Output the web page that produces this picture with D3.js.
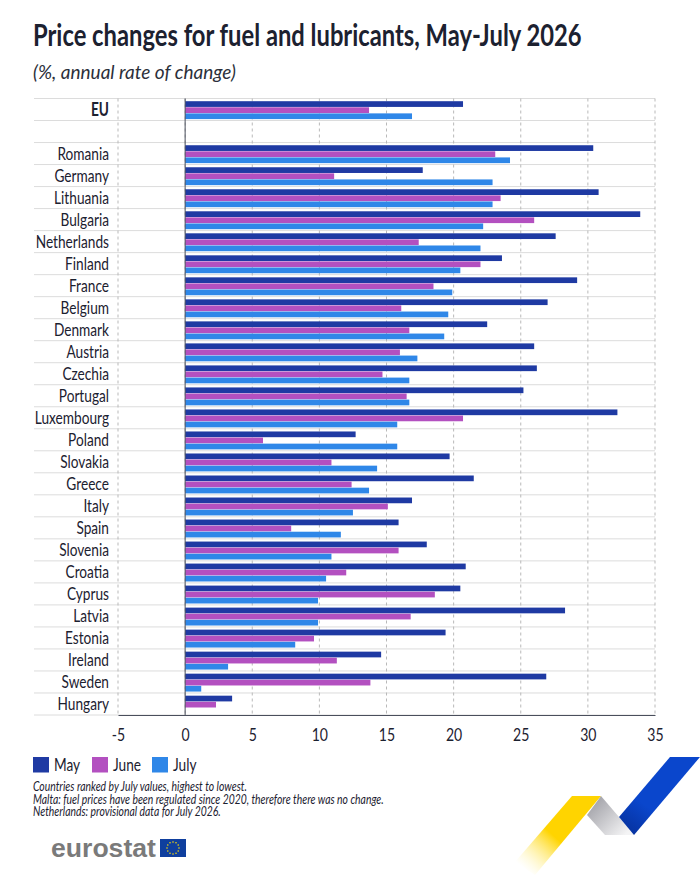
<!DOCTYPE html>
<html lang="en">
<head>
<meta charset="utf-8">
<title>Price changes for fuel and lubricants</title>
<script src="https://cdn.jsdelivr.net/npm/d3@7"></script>
<style>
  html, body { margin: 0; padding: 0; background: #fff; }
  svg { display: block; }
  text { font-family: Lato, sans-serif; }
</style>
</head>
<body>
<div id="drawing"></div>
<script>
var countries = ['EU', '', 'Romania', 'Germany', 'Lithuania', 'Bulgaria', 'Netherlands', 'Finland', 'France', 'Belgium', 'Denmark', 'Austria', 'Czechia', 'Portugal', 'Luxembourg', 'Poland', 'Slovakia', 'Greece', 'Italy', 'Spain', 'Slovenia', 'Croatia', 'Cyprus', 'Latvia', 'Estonia', 'Ireland', 'Sweden', 'Hungary'];
var may  = [20.7, null, 30.4, 17.7, 30.8, 33.9, 27.6, 23.6, 29.2, 27.0, 22.5, 26.0, 26.2, 25.2, 32.2, 12.7, 19.7, 21.5, 16.9, 15.9, 18.0, 20.9, 20.5, 28.3, 19.4, 14.6, 26.9, 3.5];
var june = [13.7, null, 23.1, 11.1, 23.5, 26.0, 17.4, 22.0, 18.5, 16.1, 16.7, 16.0, 14.7, 16.5, 20.7, 5.8, 10.9, 12.4, 15.1, 7.9, 15.9, 12.0, 18.6, 16.8, 9.6, 11.3, 13.8, 2.3];
var july = [16.9, null, 24.2, 22.9, 22.9, 22.2, 22.0, 20.5, 19.9, 19.6, 19.3, 17.3, 16.7, 16.7, 15.8, 15.8, 14.3, 13.7, 12.5, 11.6, 10.9, 10.5, 9.9, 9.9, 8.2, 3.2, 1.2, 0];
var seriesNames = ['May', 'June', 'July'];
var seriesColors = ['#1f3aa3', '#b350c0', '#2f87e8'];
var tickValues = [-5, 0, 5, 10, 15, 20, 25, 30, 35];
var notes = [
  'Countries ranked by July values, highest to lowest.',
  'Malta: fuel prices have been regulated since 2020, therefore there was no change.',
  'Netherlands: provisional data for July 2026.'
];

var textColor = '#1c2130';
var svg = d3.select('#drawing').append('svg').attr('width', 700).attr('height', 875);
var defs = svg.append('defs');

var x = d3.scaleLinear().domain([-5, 35]).range([118, 655]);
var y = d3.scaleBand().domain(d3.range(countries.length)).range([98.5, 715]);
var barY = d3.scaleBand().domain(d3.range(3)).range([2.7, 20.6]).paddingInner(0.06).paddingOuter(0);
var bottom = y.range()[1];

// the chart font is a condensed one, so squeeze text to the wanted width
function squeeze(sel, px, py, sx) {
  sel.attr('transform', 'translate(' + px + ',' + py + ') scale(' + sx + ',1)');
}
function fit(sel, px, py, width) {
  sel.each(function() {
    squeeze(d3.select(this), px, py, width / this.getComputedTextLength());
  });
}

// title + subtitle
svg.append('text').attr('font-size', 30).attr('font-weight', 700).attr('fill', textColor)
  .text('Price changes for fuel and lubricants, May-July 2026')
  .call(fit, 33, 46, 549);
svg.append('text').attr('font-size', 20).attr('font-style', 'italic').attr('fill', '#2b2f3a')
  .text('(%, annual rate of change)')
  .call(fit, 33, 79, 203);

// horizontal row lines
svg.append('g').selectAll('line').data(d3.range(countries.length + 1)).enter().append('line')
  .attr('x1', 34).attr('x2', 655)
  .attr('y1', function(d) { return d < countries.length ? y(d) : bottom; })
  .attr('y2', function(d) { return d < countries.length ? y(d) : bottom; })
  .attr('stroke', '#dcdcdc').attr('stroke-width', 1);

// vertical dashed grid
svg.append('g').selectAll('line').data(tickValues).enter().append('line')
  .attr('x1', function(d) { return x(d); }).attr('x2', function(d) { return x(d); })
  .attr('y1', y.range()[0]).attr('y2', bottom)
  .attr('stroke', '#b9b9b9').attr('stroke-width', 1).attr('stroke-dasharray', '3,3');

// bars
[may, june, july].forEach(function(values, s) {
  var rows = d3.range(values.length).filter(function(i) { return values[i] !== null; });
  svg.append('g').selectAll('rect').data(rows).enter().append('rect')
    .attr('x', x(0))
    .attr('y', function(i) { return y(i) + barY(s); })
    .attr('width', function(i) { return x(values[i]) - x(0); })
    .attr('height', barY.bandwidth())
    .attr('fill', seriesColors[s]);
});

// zero line
svg.append('line').attr('x1', x(0)).attr('x2', x(0))
  .attr('y1', y.range()[0]).attr('y2', bottom)
  .attr('stroke', '#4a4f5c').attr('stroke-width', 1);

// bottom axis with labels
var axis = svg.append('g').attr('transform', 'translate(0,' + bottom + ')')
  .call(d3.axisBottom(x).tickValues(tickValues).tickSize(0).tickPadding(13)
    .tickFormat(function(d) { return String(d); }));
axis.select('.domain').attr('stroke', '#4a4f5c').attr('stroke-width', 1);
axis.selectAll('text').attr('font-size', 18).attr('fill', textColor)
  .style('font-family', 'Lato, sans-serif')
  .attr('transform', 'scale(0.78,1)');

// country labels
svg.append('g').selectAll('text').data(countries).enter().append('text')
  .attr('text-anchor', 'end')
  .attr('font-size', 18)
  .attr('font-weight', function(d) { return d === 'EU' ? 700 : 400; })
  .attr('fill', textColor)
  .attr('transform', function(d, i) {
    return 'translate(109,' + (y(i) + y.bandwidth() / 2 + 6.5) + ') scale(0.76,1)';
  })
  .text(function(d) { return d; });

// legend
var legendX = [33, 92, 152];
var legend = svg.append('g').selectAll('g').data(seriesNames).enter().append('g')
  .attr('transform', function(d, i) { return 'translate(' + legendX[i] + ',757)'; });
legend.append('rect').attr('width', 16).attr('height', 15.5)
  .attr('fill', function(d, i) { return seriesColors[i]; });
legend.append('text').attr('font-size', 18).attr('fill', textColor)
  .attr('transform', 'translate(21,14) scale(0.76,1)')
  .text(function(d) { return d; });

// notes
var noteWidths = [214, 351, 188];
svg.append('g').selectAll('text').data(notes).enter().append('text')
  .attr('font-size', 13.5).attr('font-style', 'italic').attr('fill', textColor)
  .text(function(d) { return d; })
  .each(function(d, i) {
    d3.select(this).call(fit, 33, 791 + i * 12.5, noteWidths[i]);
  });

// eurostat logo
svg.append('text').attr('font-size', 25).attr('font-weight', 700).attr('fill', '#7a7a7a')
  .style('font-family', '"Liberation Sans", sans-serif')
  .text('eurostat')
  .call(fit, 51, 857, 105);
svg.append('rect').attr('x', 160).attr('y', 839).attr('width', 26).attr('height', 18).attr('fill', '#0f3f9e');
svg.append('g').selectAll('circle').data(d3.range(12)).enter().append('circle')
  .attr('cx', function(d) { return 173 + 6 * Math.cos(d * Math.PI / 6); })
  .attr('cy', function(d) { return 848 + 6 * Math.sin(d * Math.PI / 6); })
  .attr('r', 0.8).attr('fill', '#f5d90a');

// ribbon decoration, bottom right
function gradient(id, x1, y1, x2, y2, stops) {
  var g = defs.append('linearGradient').attr('id', id).attr('gradientUnits', 'userSpaceOnUse')
    .attr('x1', x1).attr('y1', y1).attr('x2', x2).attr('y2', y2);
  stops.forEach(function(s) {
    g.append('stop').attr('offset', s[0]).attr('stop-color', s[1]).attr('stop-opacity', s[2]);
  });
}
gradient('ribYellow', 575, 815, 525, 870, [[0, '#ffd400', 1], [0.4, '#ffd400', 1], [1, '#fff3a0', 0]]);
gradient('ribGrey', 592, 803, 625, 835, [[0, '#a4a4aa', 1], [1, '#f4f4f5', 1]]);
gradient('ribBlue', 672, 770, 625, 835, [[0, '#0a46cc', 1], [0.55, '#0a46cc', 1], [1, '#06309a', 1]]);
var ribbons = [
  ['ribYellow', '572,796 601,796 535,875 515,862'],
  ['ribGrey', '601,796 619,817 634,835 605,835 587,815'],
  ['ribBlue', '670,757 700,757 634,835 619,817']
];
svg.append('g').selectAll('polygon').data(ribbons).enter().append('polygon')
  .attr('points', function(d) { return d[1]; })
  .attr('fill', function(d) { return 'url(#' + d[0] + ')'; });
</script>
</body>
</html>
